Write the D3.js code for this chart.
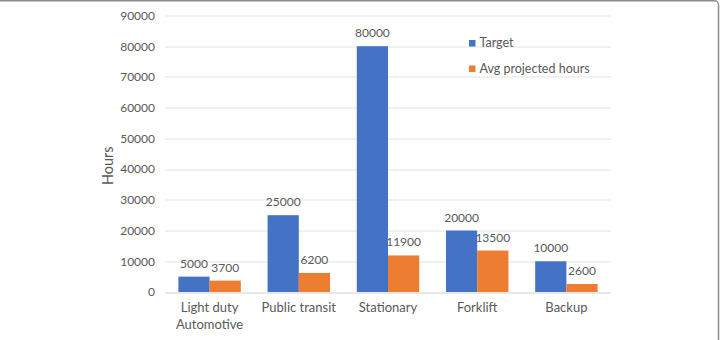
<!DOCTYPE html>
<html>
<head>
<meta charset="utf-8">
<script src="https://cdn.jsdelivr.net/npm/d3@7"></script>
<style>
  body { margin: 0; background: #fff; }
  text { font-family: Lato, "Open Sans", sans-serif; fill: #595959; }
</style>
</head>
<body>
<div id="chart"></div>
<script>
// chart data
const categories = ["Light duty\nAutomotive", "Public transit", "Stationary", "Forklift", "Backup"];
const seriesNames = ["Target", "Avg projected hours"];
const target = [5000, 25000, 80000, 20000, 10000];
const avgHours = [3700, 6200, 11900, 13500, 2600];
const yTicks = [0, 10000, 20000, 30000, 40000, 50000, 60000, 70000, 80000, 90000];
const colors = ["#4472C4", "#ED7D31"];

const W = 721, H = 340;
const margin = { top: 15.5, right: 110, bottom: 48, left: 165 },
  width = W - margin.left - margin.right,
  height = H - margin.top - margin.bottom;

const root = d3.select("#chart").append("svg")
  .attr("width", W).attr("height", H);

// frame of the figure
root.append("rect")
  .attr("x", -6).attr("y", 0.75)
  .attr("width", 724.5).attr("height", H + 10)
  .attr("rx", 4)
  .attr("fill", "none")
  .attr("stroke", "#8c8c8c")
  .attr("stroke-width", 1.5);

const svg = root.append("g")
  .attr("transform", `translate(${margin.left},${margin.top})`);

const y = d3.scaleLinear().domain([0, 90000]).range([height, 0]);
const x0 = d3.scaleBand().domain(d3.range(categories.length))
  .range([0, width]).paddingInner(0.3).paddingOuter(0.15);
const x1 = d3.scaleBand().domain([0, 1]).range([0, x0.bandwidth()]);

// gridlines
svg.append("g")
  .selectAll("line")
  .data(yTicks)
  .join("line")
  .attr("x1", 0).attr("x2", width)
  .attr("y1", d => Math.round(y(d)) + 0.5)
  .attr("y2", d => Math.round(y(d)) + 0.5)
  .attr("stroke", d => d === 0 ? "#d0d0d0" : "#e3e3e3")
  .attr("stroke-width", 1);

// y axis labels
const yAxis = svg.append("g")
  .call(d3.axisLeft(y).tickValues(yTicks).tickSize(0).tickPadding(10).tickFormat(d3.format("d")));
yAxis.select(".domain").remove();
yAxis.selectAll("text")
  .style("font-size", "12px")
  .style("font-family", "Lato, sans-serif")
  .attr("fill", "#595959");

svg.append("text")
  .attr("transform", `translate(-52,${y(45000) + 12}) rotate(-90)`)
  .attr("text-anchor", "middle")
  .style("font-size", "14.5px")
  .text("Hours");

const rows = categories.map((c, i) => ({ i, vals: [target[i], avgHours[i]] }));

const groups = svg.selectAll(".grp")
  .data(rows)
  .join("g")
  .attr("transform", d => `translate(${x0(d.i)},0)`);

groups.selectAll("rect")
  .data(d => d.vals.map((v, s) => ({ v, s })))
  .join("rect")
  .attr("x", d => x1(d.s))
  .attr("y", d => y(d.v))
  .attr("width", x1.bandwidth())
  .attr("height", d => height - y(d.v))
  .attr("fill", d => colors[d.s]);

groups.selectAll(".lbl")
  .data(d => d.vals.map((v, s) => ({ v, s })))
  .join("text")
  .attr("class", "lbl")
  .attr("x", d => x1(d.s) + x1.bandwidth() / 2)
  .attr("y", d => y(d.v) - 9)
  .attr("text-anchor", "middle")
  .style("font-size", "12px")
  .attr("fill", "#404040")
  .text(d => d.v);

// category labels
svg.append("g")
  .selectAll("text")
  .data(rows)
  .join("text")
  .attr("text-anchor", "middle")
  .attr("x", d => x0(d.i) + x0.bandwidth() / 2)
  .attr("y", height + 20)
  .style("font-size", "13px")
  .each(function (d) {
    const lines = categories[d.i].split("\n");
    d3.select(this).selectAll("tspan")
      .data(lines)
      .join("tspan")
      .attr("x", x0(d.i) + x0.bandwidth() / 2)
      .attr("dy", (l, k) => k === 0 ? 0 : 16.5)
      .text(l => l);
  });

// legend
const legend = svg.append("g")
  .attr("transform", `translate(${469 - margin.left},${40 - margin.top})`);
const li = legend.selectAll("g")
  .data(seriesNames)
  .join("g")
  .attr("transform", (d, i) => `translate(0,${i * 25.5})`);
li.append("rect")
  .attr("width", 6.5).attr("height", 6.5)
  .attr("fill", (d, i) => colors[i]);
li.append("text")
  .attr("x", 10.5).attr("y", 7)
  .style("font-size", "12.5px")
  .text(d => d);
</script>
</body>
</html>
